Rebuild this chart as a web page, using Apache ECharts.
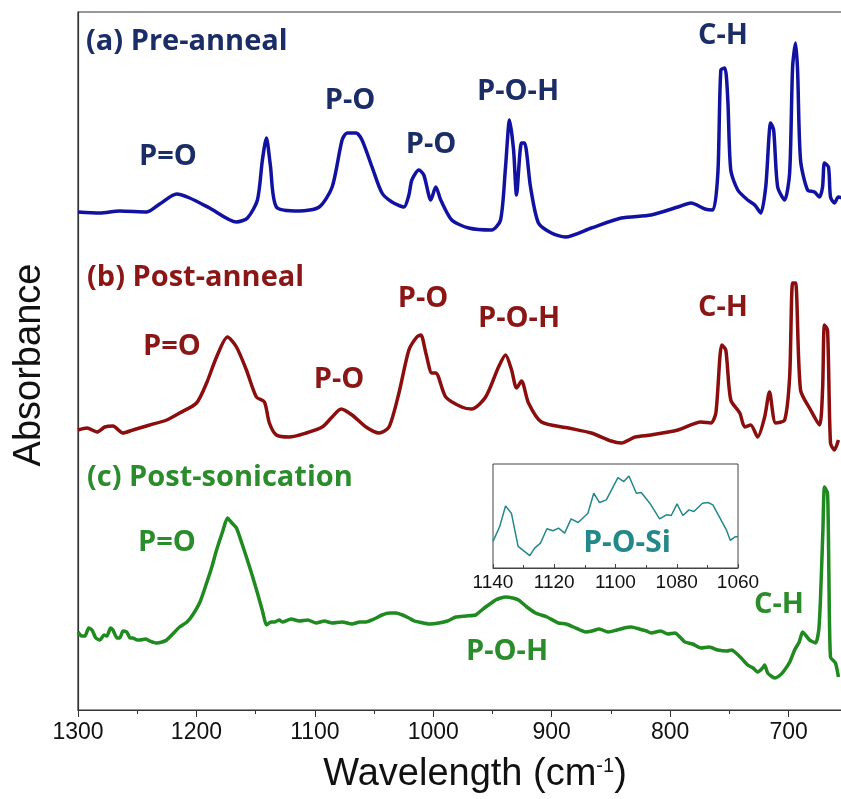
<!DOCTYPE html>
<html>
<head>
<meta charset="utf-8">
<script src="https://cdn.jsdelivr.net/npm/echarts@6/dist/echarts.min.js"></script>
<style>
  html, body { margin: 0; padding: 0; overflow: hidden; background: #fff; }
  #chart { width: 910px; height: 799px; }
</style>
</head>
<body>
<div id="chart"></div>
<script>
// 光谱数据 (波数 cm-1, 吸光度 任意单位, 曲线已偏移)
const waveA = [1300, 1281.5, 1264.7, 1241.9, 1231, 1216.7, 1205.7, 1188.9, 1166.2, 1156.9, 1148.5, 1144.3, 1140.9, 1137.6, 1132.5, 1113.2, 1096.3, 1085.4, 1077, 1072.8, 1065.2, 1060.2, 1051.7, 1043.3, 1034.9, 1024.8, 1020.6, 1018.1, 1012.2, 1008, 1002.1, 997.9, 993.7, 984.4, 970.1, 950.8, 943.2, 939, 935.6, 932.2, 929.7, 925.5, 923, 917.9, 911.2, 900.2, 888.5, 866.6, 841.3, 816.1, 793.4, 782.4, 770.6, 763.9, 759.7, 757.2, 753.8, 751.3, 748.8, 742.9, 734.5, 728.6, 723.5, 719.3, 715.1, 712.6, 709.2, 703.3, 699.1, 696.6, 694.1, 692.4, 689.9, 684, 678.1, 673.9, 671.3, 669.7, 666.3, 664.6, 661.3, 657.9, 650.3];
const absA = [498, 497, 499, 498, 506, 516, 512, 502, 488, 492, 510, 550, 572, 545, 503, 499, 503, 523, 570, 577, 577, 570, 543, 517, 508, 503, 515, 530, 540, 535, 510, 523, 510, 490, 482, 480, 490, 543, 590, 560, 515, 567, 567, 523, 487, 477, 473, 482, 492, 495, 503, 507, 501, 500, 537, 640, 642, 610, 540, 520, 510, 505, 497, 523, 587, 580, 523, 510, 537, 643, 667, 640, 550, 520, 518, 513, 523, 547, 543, 513, 507, 513, 510];

const waveB = [1300, 1292.4, 1284, 1277.3, 1270.5, 1262.1, 1253.7, 1239.4, 1225.1, 1214.2, 1199.9, 1191.4, 1183, 1173.8, 1166.2, 1157.8, 1149.4, 1142.6, 1138.4, 1132.5, 1121.6, 1107.3, 1093.8, 1085.4, 1077.8, 1068.6, 1056.8, 1045.8, 1037.4, 1029, 1020.6, 1013.9, 1010.5, 1006.3, 1001.2, 997.9, 989.5, 976, 967.6, 955.8, 944.9, 939, 933.9, 929.7, 925.5, 919.6, 908.7, 885.9, 866.6, 849.8, 841.3, 829.6, 816.1, 793.4, 774, 765.6, 761.4, 756.4, 753, 748.8, 741.2, 737, 732, 726.1, 720.2, 716.1, 710.9, 703.3, 699.1, 696.6, 694.1, 689.9, 681.4, 673.9, 671.3, 669.7, 667.1, 664.6, 661.3, 657.9];
const absB = [280, 282, 278, 283, 284, 277, 280, 285, 290, 297, 307, 327, 353, 373, 363, 340, 313, 308, 287, 275, 273, 277, 283, 293, 301, 295, 283, 277, 283, 317, 360, 373, 375, 357, 337, 337, 313, 303, 301, 313, 343, 355, 340, 322, 329, 307, 288, 282, 277, 269, 267, 273, 275, 280, 288, 287, 297, 365, 360, 310, 297, 283, 285, 273, 293, 318, 287, 290, 333, 427, 427, 320, 300, 285, 320, 385, 380, 267, 260, 270];

const waveC = [1300, 1297, 1294.1, 1291, 1288.2, 1285, 1281.5, 1278, 1275.6, 1272.5, 1270.5, 1267, 1264.7, 1262, 1258.8, 1256, 1253.7, 1250, 1247.8, 1243, 1239.4, 1233.5, 1229, 1225.1, 1220, 1214.2, 1208, 1203.2, 1197, 1191.4, 1187, 1183, 1178, 1173.8, 1170, 1166.2, 1162, 1157.8, 1153, 1148.5, 1144, 1140.9, 1137, 1134.2, 1130, 1127.5, 1120, 1113.2, 1106, 1098.9, 1092, 1085.4, 1077, 1068.6, 1062, 1056.8, 1050, 1043.3, 1037, 1031.5, 1026, 1020.6, 1016, 1012.2, 1003, 995.3, 988, 981, 972, 964.2, 960, 955.8, 951, 947.4, 943, 939, 933, 928, 921, 913.7, 904, 894.4, 888, 881.7, 876, 871.6, 866, 860, 852.3, 845, 839, 832.9, 826, 820, 816.1, 808, 802, 795.9, 791, 787.5, 781, 774, 767, 759.7, 752, 748, 745.4, 740, 734.5, 730, 726.1, 722, 720.2, 717.6, 711.7, 707, 703.3, 699, 694.9, 691, 688.2, 685, 682.3, 677.2, 674.5, 673.1, 671, 669.7, 667.1, 666, 664.6, 660.4, 657.9];
const absC = [78, 74, 74, 82, 80, 72, 70, 75, 74, 82, 80, 72, 72, 79, 78, 72, 72, 70, 70, 71, 69, 67, 68, 70, 76, 83, 88, 95, 108, 127, 143, 160, 178, 192, 187, 182, 168, 153, 135, 117, 98, 85, 88, 88, 90, 88, 91, 89, 90, 87, 89, 87, 88, 86, 88, 88, 91, 95, 97, 97, 95, 92, 89, 88, 86, 87, 89, 93, 94, 95, 99, 103, 107, 110, 112, 113, 112, 110, 103, 97, 93, 87, 86, 83, 80, 78, 79, 81, 78, 80, 82, 83, 81, 79, 77, 79, 76, 77, 72, 68, 66, 62, 63, 60, 59, 60, 58, 52, 45, 42, 38, 42, 45, 37, 32, 35, 40, 48, 60, 68, 78, 74, 70, 67, 80, 110, 180, 223, 217, 140, 53, 47, 33];

// 插图 P-O-Si
const waveInset = [1140, 1137.8, 1135.9, 1134.0, 1131.8, 1128.0, 1126.4, 1124.5, 1122.4, 1120.4, 1118.6, 1116.6, 1114.5, 1112.2, 1109.0, 1107.1, 1105.2, 1103.0, 1099.2, 1097.3, 1095.6, 1093.2, 1091.6, 1088.8, 1085.6, 1083.4, 1081.8, 1079.9, 1078.0, 1076.0, 1074.4, 1071.6, 1069.8, 1068.2, 1063.8, 1062.5, 1061.1, 1060];
const absInset = [80, 125, 187, 165, 65, 37, 60, 75, 118, 112, 120, 105, 148, 137, 165, 225, 197, 205, 272, 260, 277, 225, 227, 195, 148, 160, 158, 193, 158, 175, 170, 195, 197, 190, 115, 83, 93, 95];

const xTicks = [1300, 1200, 1100, 1000, 900, 800, 700];
const insetTicks = [1140, 1120, 1100, 1080, 1060];

function pairs(xs, ys) {
  return xs.map((x, i) => [x, ys[i]]);
}

const navy = "#1b2d66";
const maroon = "#8b1616";
const green = "#2a8c2a";
const teal = "#22888a";

// 标注文字
function txt(text, x, y, color, align) {
  return {
    type: "text",
    x: x,
    y: y,
    style: {
      text: text,
      fill: color,
      font: "bold 29px 'Open Sans'",
      align: align || "center",
      verticalAlign: "middle",
    },
  };
}

const chart = echarts.init(document.getElementById("chart"));
const option = {
  animation: false,
  grid: [
    { left: 78, top: 12, right: 0, bottom: 89, show: true, borderColor: "#333", borderWidth: 1.2 },
    { left: 493, top: 464, width: 245, height: 104, show: true, borderColor: "#444", borderWidth: 1 },
  ],
  xAxis: [
    {
      gridIndex: 0,
      type: "value",
      min: 600,
      max: 1300,
      interval: 100,
      inverse: true,
      axisLine: { show: true, lineStyle: { color: "#333", width: 1.2 } },
      axisTick: { show: true, length: 7, lineStyle: { color: "#333" } },
      minorTick: { show: true, splitNumber: 2, length: 4, lineStyle: { color: "#333" } },
      splitLine: { show: false },
      axisLabel: {
        color: "#111",
        fontFamily: "Liberation Sans",
        fontSize: 23,
        margin: 11,
        formatter: (v) => (xTicks.indexOf(v) >= 0 ? String(v) : ""),
      },
    },
    {
      gridIndex: 1,
      type: "value",
      min: 1060,
      max: 1140,
      interval: 20,
      inverse: true,
      axisLine: { show: true, lineStyle: { color: "#444", width: 1 } },
      axisTick: { show: true, inside: true, length: 4, lineStyle: { color: "#444" } },
      minorTick: { show: true, splitNumber: 2, length: 3, lineStyle: { color: "#444" } },
      splitLine: { show: false },
      axisLabel: {
        color: "#111",
        fontFamily: "Liberation Sans",
        fontSize: 19,
        margin: 5,
        formatter: (v) => (insetTicks.indexOf(v) >= 0 ? String(v) : ""),
      },
    },
  ],
  yAxis: [
    {
      gridIndex: 0,
      type: "value",
      min: 0,
      max: 698,
      axisLine: { show: true, lineStyle: { color: "#333", width: 1.2 } },
      axisTick: { show: false },
      axisLabel: { show: false },
      splitLine: { show: false },
    },
    {
      gridIndex: 1,
      type: "value",
      min: 0,
      max: 313,
      axisLine: { show: false },
      axisTick: { show: false },
      axisLabel: { show: false },
      splitLine: { show: false },
    },
  ],
  series: [
    {
      name: "(a) Pre-anneal",
      type: "line",
      data: pairs(waveA, absA),
      showSymbol: false,
      smooth: 0.25,
      lineStyle: { color: "#1212a0", width: 3.5 },
    },
    {
      name: "(b) Post-anneal",
      type: "line",
      data: pairs(waveB, absB),
      showSymbol: false,
      smooth: 0.25,
      lineStyle: { color: "#8b0e0e", width: 3.5 },
    },
    {
      name: "(c) Post-sonication",
      type: "line",
      data: pairs(waveC, absC),
      showSymbol: false,
      smooth: 0.2,
      lineStyle: { color: "#1f8a1f", width: 3.5 },
    },
    {
      name: "P-O-Si",
      type: "line",
      xAxisIndex: 1,
      yAxisIndex: 1,
      data: pairs(waveInset, absInset),
      showSymbol: false,
      lineStyle: { color: teal, width: 1.5 },
    },
  ],
  graphic: [
    txt("(a) Pre-anneal", 86, 42, navy, "left"),
    txt("P=O", 168, 157, navy),
    txt("P-O", 350, 101, navy),
    txt("P-O", 431, 145, navy),
    txt("P-O-H", 518, 92, navy),
    txt("C-H", 723, 36, navy),
    txt("(b) Post-anneal", 87, 278, maroon, "left"),
    txt("P=O", 172, 347, maroon),
    txt("P-O", 339, 380, maroon),
    txt("P-O", 423, 299, maroon),
    txt("P-O-H", 519, 319, maroon),
    txt("C-H", 723, 308, maroon),
    txt("(c) Post-sonication", 87, 478, green, "left"),
    txt("P=O", 167, 543, green),
    txt("P-O-H", 507, 652, green),
    txt("C-H", 779, 605, green),
    {
      type: "text",
      x: 627,
      y: 543,
      style: { text: "P-O-Si", fill: teal, font: "bold 30px 'Open Sans'", align: "center", verticalAlign: "middle" },
    },
    {
      type: "text",
      x: 30,
      y: 365,
      rotation: Math.PI / 2,
      style: { text: "Absorbance", fill: "#111", font: "38px 'Liberation Sans'", align: "center", verticalAlign: "middle" },
    },
    {
      type: "text",
      x: 475,
      y: 775,
      style: {
        text: "{t|Wavelength (cm}{s|-1}{t|)}",
        align: "center",
        verticalAlign: "middle",
        rich: {
          t: { fontFamily: "Liberation Sans", fontSize: 38, fill: "#111", color: "#111" },
          s: { fontFamily: "Liberation Sans", fontSize: 20, fill: "#111", color: "#111", verticalAlign: "top", padding: [0, 0, 18, 0] },
        },
      },
    },
  ],
};
chart.setOption(option);
</script>
</body>
</html>
